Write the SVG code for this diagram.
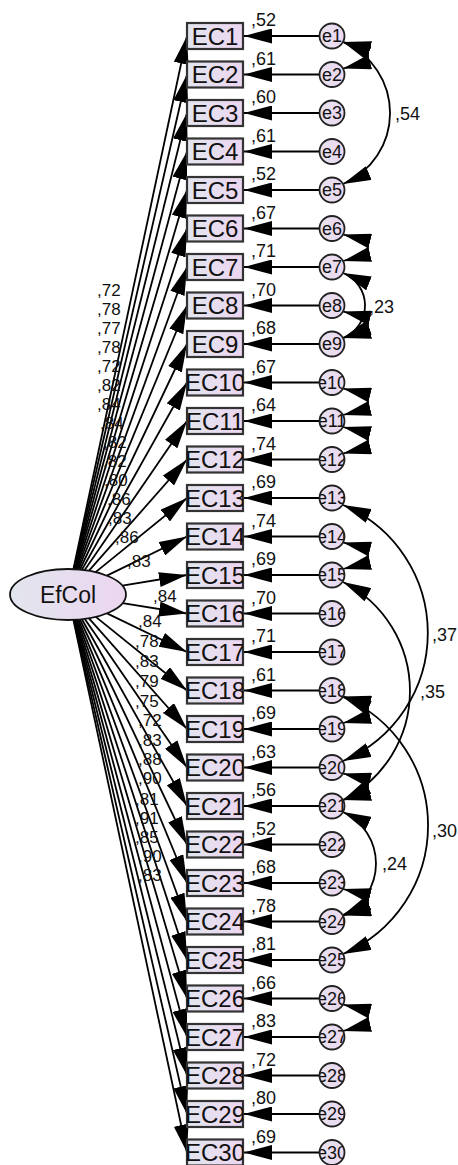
<svg xmlns="http://www.w3.org/2000/svg" width="458" height="1165" viewBox="0 0 458 1165">
<style>
text{font-family:"Liberation Sans",Arial,sans-serif;fill:#111}
.ln{fill:none;stroke:#000;stroke-width:1.8}
.arr{marker-end:url(#ah)}
.cov{marker-start:url(#ah);marker-end:url(#ah)}
.box{fill:url(#gb);stroke:#333;stroke-width:2.2}
.err{fill:url(#ge);stroke:#222;stroke-width:1.8}
.lat{fill:url(#gl);stroke:#111;stroke-width:1.8}
.bt{font-size:24px;text-anchor:middle}
.et{font-size:18px;text-anchor:middle}
.lb{font-size:18px}
.ll{font-size:17px}
.lt{font-size:23px;text-anchor:middle}
</style>
<defs>
<linearGradient id="gb" x1="0" y1="0" x2="1" y2="0"><stop offset="0" stop-color="#e2e5ee"/><stop offset="1" stop-color="#ecd6f0"/></linearGradient>
<linearGradient id="ge" x1="0" y1="0" x2="1" y2="0"><stop offset="0" stop-color="#e6e2ef"/><stop offset="1" stop-color="#ecd8f0"/></linearGradient>
<linearGradient id="gl" x1="0" y1="0" x2="1" y2="0"><stop offset="0" stop-color="#e2e5ee"/><stop offset="1" stop-color="#ecd6f0"/></linearGradient>
<clipPath id="cb" clipPathUnits="userSpaceOnUse"><rect x="-28" y="-13" width="56" height="26"/></clipPath>
<clipPath id="cc" clipPathUnits="userSpaceOnUse"><circle r="12"/></clipPath>
<marker id="ah" markerUnits="userSpaceOnUse" viewBox="0 0 28 15" refX="28" refY="7.5" markerWidth="28" markerHeight="15" orient="auto-start-reverse"><path d="M0,0L28,7.5L0,15z" fill="#000"/></marker>
</defs>
<g id="connectors">
<path class="ln arr" d="M73.4,569.1L187,36"/>
<path class="ln arr" d="M73.8,569.1L187,74.5"/>
<path class="ln arr" d="M74.3,569.2L187,113"/>
<path class="ln arr" d="M74.8,569.2L187,151.5"/>
<path class="ln arr" d="M75.4,569.2L187,190"/>
<path class="ln arr" d="M76.2,569.3L187,228.5"/>
<path class="ln arr" d="M77.2,569.3L187,267"/>
<path class="ln arr" d="M78.3,569.4L187,305.5"/>
<path class="ln arr" d="M79.9,569.5L187,344"/>
<path class="ln arr" d="M81.9,569.7L187,382.5"/>
<path class="ln arr" d="M84.7,570.1L187,421"/>
<path class="ln arr" d="M89,570.7L187,459.5"/>
<path class="ln arr" d="M95.6,572.1L187,498"/>
<path class="ln arr" d="M106.9,575.6L187,536.5"/>
<path class="ln arr" d="M122.3,585.6L187,575"/>
<path class="ln arr" d="M122.5,603.2L187,613.5"/>
<path class="ln arr" d="M107,613.4L187,652"/>
<path class="ln arr" d="M95.8,616.9L187,690.5"/>
<path class="ln arr" d="M89,618.3L187,729"/>
<path class="ln arr" d="M84.8,618.9L187,767.5"/>
<path class="ln arr" d="M81.9,619.3L187,806"/>
<path class="ln arr" d="M79.9,619.5L187,844.5"/>
<path class="ln arr" d="M78.3,619.6L187,883"/>
<path class="ln arr" d="M77.2,619.7L187,921.5"/>
<path class="ln arr" d="M76.2,619.7L187,960"/>
<path class="ln arr" d="M75.4,619.8L187,998.5"/>
<path class="ln arr" d="M74.8,619.8L187,1037"/>
<path class="ln arr" d="M74.3,619.85L187,1075.5"/>
<path class="ln arr" d="M73.8,619.9L187,1114"/>
<path class="ln arr" d="M73.4,619.9L187,1152.5"/>

<path class="ln arr" d="M319.5,36H244"/>
<path class="ln arr" d="M319.5,74.5H244"/>
<path class="ln arr" d="M319.5,113H244"/>
<path class="ln arr" d="M319.5,151.5H244"/>
<path class="ln arr" d="M319.5,190H244"/>
<path class="ln arr" d="M319.5,228.5H244"/>
<path class="ln arr" d="M319.5,267H244"/>
<path class="ln arr" d="M319.5,305.5H244"/>
<path class="ln arr" d="M319.5,344H244"/>
<path class="ln arr" d="M319.5,382.5H244"/>
<path class="ln arr" d="M319.5,421H244"/>
<path class="ln arr" d="M319.5,459.5H244"/>
<path class="ln arr" d="M319.5,498H244"/>
<path class="ln arr" d="M319.5,536.5H244"/>
<path class="ln arr" d="M319.5,575H244"/>
<path class="ln arr" d="M319.5,613.5H244"/>
<path class="ln arr" d="M319.5,652H244"/>
<path class="ln arr" d="M319.5,690.5H244"/>
<path class="ln arr" d="M319.5,729H244"/>
<path class="ln arr" d="M319.5,767.5H244"/>
<path class="ln arr" d="M319.5,806H244"/>
<path class="ln arr" d="M319.5,844.5H244"/>
<path class="ln arr" d="M319.5,883H244"/>
<path class="ln arr" d="M319.5,921.5H244"/>
<path class="ln arr" d="M319.5,960H244"/>
<path class="ln arr" d="M319.5,998.5H244"/>
<path class="ln arr" d="M319.5,1037H244"/>
<path class="ln arr" d="M319.5,1075.5H244"/>
<path class="ln arr" d="M319.5,1114H244"/>
<path class="ln arr" d="M319.5,1152.5H244"/>

<path class="ln cov" d="M343,42A77.1,77.1 0 0 1 343,184"/>
<path class="ln cov" d="M343,273A35,35 0 0 1 343,338"/>
<path class="ln cov" d="M343,505A139,139 0 0 1 343,761"/>
<path class="ln cov" d="M343,582A122.2,122.2 0 0 1 343,800"/>
<path class="ln cov" d="M343,697A139.6,139.6 0 0 1 343,954"/>
<path class="ln cov" d="M343,812A56.7,56.7 0 0 1 343,915"/>

<path class="ln cov" d="M343,42C376,50 376,60.5 343,68.5"/>
<path class="ln cov" d="M343,234.5C376,242.5 376,253 343,261"/>
<path class="ln cov" d="M343,311.5C376,319.5 376,330 343,338"/>
<path class="ln cov" d="M343,388.5C376,396.5 376,407 343,415"/>
<path class="ln cov" d="M343,427C376,435 376,445.5 343,453.5"/>
<path class="ln cov" d="M343,542.5C376,550.5 376,561 343,569"/>
<path class="ln cov" d="M343,696.5C376,704.5 376,715 343,723"/>
<path class="ln cov" d="M343,773.5C376,781.5 376,792 343,800"/>
<path class="ln cov" d="M343,889C376,897 376,907.5 343,915.5"/>
<path class="ln cov" d="M343,1004.5C376,1012.5 376,1023 343,1031"/>

<text class="lb" x="395" y="120">,54</text>
<text class="lb" x="369" y="313">,23</text>
<text class="lb" x="432" y="641">,37</text>
<text class="lb" x="420" y="698">,35</text>
<text class="lb" x="432" y="837">,30</text>
<text class="lb" x="382" y="870">,24</text>

<text class="lb" x="251" y="26">,52</text>
<text class="lb" x="251" y="64.5">,61</text>
<text class="lb" x="251" y="103">,60</text>
<text class="lb" x="251" y="141.5">,61</text>
<text class="lb" x="251" y="180">,52</text>
<text class="lb" x="251" y="218.5">,67</text>
<text class="lb" x="251" y="257">,71</text>
<text class="lb" x="251" y="295.5">,70</text>
<text class="lb" x="251" y="334">,68</text>
<text class="lb" x="251" y="372.5">,67</text>
<text class="lb" x="251" y="411">,64</text>
<text class="lb" x="251" y="449.5">,74</text>
<text class="lb" x="251" y="488">,69</text>
<text class="lb" x="251" y="526.5">,74</text>
<text class="lb" x="251" y="565">,69</text>
<text class="lb" x="251" y="603.5">,70</text>
<text class="lb" x="251" y="642">,71</text>
<text class="lb" x="251" y="680.5">,61</text>
<text class="lb" x="251" y="719">,69</text>
<text class="lb" x="251" y="757.5">,63</text>
<text class="lb" x="251" y="796">,56</text>
<text class="lb" x="251" y="834.5">,52</text>
<text class="lb" x="251" y="873">,68</text>
<text class="lb" x="251" y="911.5">,78</text>
<text class="lb" x="251" y="950">,81</text>
<text class="lb" x="251" y="988.5">,66</text>
<text class="lb" x="251" y="1027">,83</text>
<text class="lb" x="251" y="1065.5">,72</text>
<text class="lb" x="251" y="1104">,80</text>
<text class="lb" x="251" y="1142.5">,69</text>

<text class="ll" x="97" y="296">,72</text>
<text class="ll" x="97" y="315">,78</text>
<text class="ll" x="97" y="334">,77</text>
<text class="ll" x="97" y="353">,78</text>
<text class="ll" x="97" y="372">,72</text>
<text class="ll" x="97" y="391">,82</text>
<text class="ll" x="97" y="410">,84</text>
<text class="ll" x="100" y="429">,84</text>
<text class="ll" x="103" y="448">,82</text>
<text class="ll" x="103" y="467">,82</text>
<text class="ll" x="104" y="486">,80</text>
<text class="ll" x="107" y="505">,86</text>
<text class="ll" x="108" y="524">,83</text>
<text class="ll" x="115" y="543">,86</text>
<text class="ll" x="127" y="567">,83</text>
<text class="ll" x="153" y="602">,84</text>
<text class="ll" x="138" y="627">,84</text>
<text class="ll" x="135" y="647">,78</text>
<text class="ll" x="135" y="667">,83</text>
<text class="ll" x="135" y="687">,79</text>
<text class="ll" x="135" y="707">,75</text>
<text class="ll" x="138" y="726">,72</text>
<text class="ll" x="138" y="746">,83</text>
<text class="ll" x="138" y="765">,88</text>
<text class="ll" x="138" y="784">,90</text>
<text class="ll" x="135" y="805">,81</text>
<text class="ll" x="135" y="824">,91</text>
<text class="ll" x="135" y="843">,85</text>
<text class="ll" x="138" y="862">,90</text>
<text class="ll" x="138" y="881">,83</text>
</g>

<g id="EfCol"><ellipse class="lat" cx="68" cy="594.5" rx="58" ry="25.5"/><text class="lt" x="68" y="602.5">EfCol</text></g>

<g id="EC1" transform="translate(215,36)"><rect class="box" x="-28" y="-13" width="56" height="26"/><text class="bt" y="8.5" clip-path="url(#cb)">EC1</text></g>
<g id="EC2" transform="translate(215,74.5)"><rect class="box" x="-28" y="-13" width="56" height="26"/><text class="bt" y="8.5" clip-path="url(#cb)">EC2</text></g>
<g id="EC3" transform="translate(215,113)"><rect class="box" x="-28" y="-13" width="56" height="26"/><text class="bt" y="8.5" clip-path="url(#cb)">EC3</text></g>
<g id="EC4" transform="translate(215,151.5)"><rect class="box" x="-28" y="-13" width="56" height="26"/><text class="bt" y="8.5" clip-path="url(#cb)">EC4</text></g>
<g id="EC5" transform="translate(215,190)"><rect class="box" x="-28" y="-13" width="56" height="26"/><text class="bt" y="8.5" clip-path="url(#cb)">EC5</text></g>
<g id="EC6" transform="translate(215,228.5)"><rect class="box" x="-28" y="-13" width="56" height="26"/><text class="bt" y="8.5" clip-path="url(#cb)">EC6</text></g>
<g id="EC7" transform="translate(215,267)"><rect class="box" x="-28" y="-13" width="56" height="26"/><text class="bt" y="8.5" clip-path="url(#cb)">EC7</text></g>
<g id="EC8" transform="translate(215,305.5)"><rect class="box" x="-28" y="-13" width="56" height="26"/><text class="bt" y="8.5" clip-path="url(#cb)">EC8</text></g>
<g id="EC9" transform="translate(215,344)"><rect class="box" x="-28" y="-13" width="56" height="26"/><text class="bt" y="8.5" clip-path="url(#cb)">EC9</text></g>
<g id="EC10" transform="translate(215,382.5)"><rect class="box" x="-28" y="-13" width="56" height="26"/><text class="bt" y="8.5" clip-path="url(#cb)">EC10</text></g>
<g id="EC11" transform="translate(215,421)"><rect class="box" x="-28" y="-13" width="56" height="26"/><text class="bt" y="8.5" clip-path="url(#cb)">EC11</text></g>
<g id="EC12" transform="translate(215,459.5)"><rect class="box" x="-28" y="-13" width="56" height="26"/><text class="bt" y="8.5" clip-path="url(#cb)">EC12</text></g>
<g id="EC13" transform="translate(215,498)"><rect class="box" x="-28" y="-13" width="56" height="26"/><text class="bt" y="8.5" clip-path="url(#cb)">EC13</text></g>
<g id="EC14" transform="translate(215,536.5)"><rect class="box" x="-28" y="-13" width="56" height="26"/><text class="bt" y="8.5" clip-path="url(#cb)">EC14</text></g>
<g id="EC15" transform="translate(215,575)"><rect class="box" x="-28" y="-13" width="56" height="26"/><text class="bt" y="8.5" clip-path="url(#cb)">EC15</text></g>
<g id="EC16" transform="translate(215,613.5)"><rect class="box" x="-28" y="-13" width="56" height="26"/><text class="bt" y="8.5" clip-path="url(#cb)">EC16</text></g>
<g id="EC17" transform="translate(215,652)"><rect class="box" x="-28" y="-13" width="56" height="26"/><text class="bt" y="8.5" clip-path="url(#cb)">EC17</text></g>
<g id="EC18" transform="translate(215,690.5)"><rect class="box" x="-28" y="-13" width="56" height="26"/><text class="bt" y="8.5" clip-path="url(#cb)">EC18</text></g>
<g id="EC19" transform="translate(215,729)"><rect class="box" x="-28" y="-13" width="56" height="26"/><text class="bt" y="8.5" clip-path="url(#cb)">EC19</text></g>
<g id="EC20" transform="translate(215,767.5)"><rect class="box" x="-28" y="-13" width="56" height="26"/><text class="bt" y="8.5" clip-path="url(#cb)">EC20</text></g>
<g id="EC21" transform="translate(215,806)"><rect class="box" x="-28" y="-13" width="56" height="26"/><text class="bt" y="8.5" clip-path="url(#cb)">EC21</text></g>
<g id="EC22" transform="translate(215,844.5)"><rect class="box" x="-28" y="-13" width="56" height="26"/><text class="bt" y="8.5" clip-path="url(#cb)">EC22</text></g>
<g id="EC23" transform="translate(215,883)"><rect class="box" x="-28" y="-13" width="56" height="26"/><text class="bt" y="8.5" clip-path="url(#cb)">EC23</text></g>
<g id="EC24" transform="translate(215,921.5)"><rect class="box" x="-28" y="-13" width="56" height="26"/><text class="bt" y="8.5" clip-path="url(#cb)">EC24</text></g>
<g id="EC25" transform="translate(215,960)"><rect class="box" x="-28" y="-13" width="56" height="26"/><text class="bt" y="8.5" clip-path="url(#cb)">EC25</text></g>
<g id="EC26" transform="translate(215,998.5)"><rect class="box" x="-28" y="-13" width="56" height="26"/><text class="bt" y="8.5" clip-path="url(#cb)">EC26</text></g>
<g id="EC27" transform="translate(215,1037)"><rect class="box" x="-28" y="-13" width="56" height="26"/><text class="bt" y="8.5" clip-path="url(#cb)">EC27</text></g>
<g id="EC28" transform="translate(215,1075.5)"><rect class="box" x="-28" y="-13" width="56" height="26"/><text class="bt" y="8.5" clip-path="url(#cb)">EC28</text></g>
<g id="EC29" transform="translate(215,1114)"><rect class="box" x="-28" y="-13" width="56" height="26"/><text class="bt" y="8.5" clip-path="url(#cb)">EC29</text></g>
<g id="EC30" transform="translate(215,1152.5)"><rect class="box" x="-28" y="-13" width="56" height="26"/><text class="bt" y="8.5" clip-path="url(#cb)">EC30</text></g>

<g id="e1" transform="translate(332,36)"><circle class="err" r="12.5"/><text class="et" y="6.3" clip-path="url(#cc)">e1</text></g>
<g id="e2" transform="translate(332,74.5)"><circle class="err" r="12.5"/><text class="et" y="6.3" clip-path="url(#cc)">e2</text></g>
<g id="e3" transform="translate(332,113)"><circle class="err" r="12.5"/><text class="et" y="6.3" clip-path="url(#cc)">e3</text></g>
<g id="e4" transform="translate(332,151.5)"><circle class="err" r="12.5"/><text class="et" y="6.3" clip-path="url(#cc)">e4</text></g>
<g id="e5" transform="translate(332,190)"><circle class="err" r="12.5"/><text class="et" y="6.3" clip-path="url(#cc)">e5</text></g>
<g id="e6" transform="translate(332,228.5)"><circle class="err" r="12.5"/><text class="et" y="6.3" clip-path="url(#cc)">e6</text></g>
<g id="e7" transform="translate(332,267)"><circle class="err" r="12.5"/><text class="et" y="6.3" clip-path="url(#cc)">e7</text></g>
<g id="e8" transform="translate(332,305.5)"><circle class="err" r="12.5"/><text class="et" y="6.3" clip-path="url(#cc)">e8</text></g>
<g id="e9" transform="translate(332,344)"><circle class="err" r="12.5"/><text class="et" y="6.3" clip-path="url(#cc)">e9</text></g>
<g id="e10" transform="translate(332,382.5)"><circle class="err" r="12.5"/><text class="et" y="6.3" clip-path="url(#cc)">e10</text></g>
<g id="e11" transform="translate(332,421)"><circle class="err" r="12.5"/><text class="et" y="6.3" clip-path="url(#cc)">e11</text></g>
<g id="e12" transform="translate(332,459.5)"><circle class="err" r="12.5"/><text class="et" y="6.3" clip-path="url(#cc)">e12</text></g>
<g id="e13" transform="translate(332,498)"><circle class="err" r="12.5"/><text class="et" y="6.3" clip-path="url(#cc)">e13</text></g>
<g id="e14" transform="translate(332,536.5)"><circle class="err" r="12.5"/><text class="et" y="6.3" clip-path="url(#cc)">e14</text></g>
<g id="e15" transform="translate(332,575)"><circle class="err" r="12.5"/><text class="et" y="6.3" clip-path="url(#cc)">e15</text></g>
<g id="e16" transform="translate(332,613.5)"><circle class="err" r="12.5"/><text class="et" y="6.3" clip-path="url(#cc)">e16</text></g>
<g id="e17" transform="translate(332,652)"><circle class="err" r="12.5"/><text class="et" y="6.3" clip-path="url(#cc)">e17</text></g>
<g id="e18" transform="translate(332,690.5)"><circle class="err" r="12.5"/><text class="et" y="6.3" clip-path="url(#cc)">e18</text></g>
<g id="e19" transform="translate(332,729)"><circle class="err" r="12.5"/><text class="et" y="6.3" clip-path="url(#cc)">e19</text></g>
<g id="e20" transform="translate(332,767.5)"><circle class="err" r="12.5"/><text class="et" y="6.3" clip-path="url(#cc)">e20</text></g>
<g id="e21" transform="translate(332,806)"><circle class="err" r="12.5"/><text class="et" y="6.3" clip-path="url(#cc)">e21</text></g>
<g id="e22" transform="translate(332,844.5)"><circle class="err" r="12.5"/><text class="et" y="6.3" clip-path="url(#cc)">e22</text></g>
<g id="e23" transform="translate(332,883)"><circle class="err" r="12.5"/><text class="et" y="6.3" clip-path="url(#cc)">e23</text></g>
<g id="e24" transform="translate(332,921.5)"><circle class="err" r="12.5"/><text class="et" y="6.3" clip-path="url(#cc)">e24</text></g>
<g id="e25" transform="translate(332,960)"><circle class="err" r="12.5"/><text class="et" y="6.3" clip-path="url(#cc)">e25</text></g>
<g id="e26" transform="translate(332,998.5)"><circle class="err" r="12.5"/><text class="et" y="6.3" clip-path="url(#cc)">e26</text></g>
<g id="e27" transform="translate(332,1037)"><circle class="err" r="12.5"/><text class="et" y="6.3" clip-path="url(#cc)">e27</text></g>
<g id="e28" transform="translate(332,1075.5)"><circle class="err" r="12.5"/><text class="et" y="6.3" clip-path="url(#cc)">e28</text></g>
<g id="e29" transform="translate(332,1114)"><circle class="err" r="12.5"/><text class="et" y="6.3" clip-path="url(#cc)">e29</text></g>
<g id="e30" transform="translate(332,1152.5)"><circle class="err" r="12.5"/><text class="et" y="6.3" clip-path="url(#cc)">e30</text></g>
</svg>
